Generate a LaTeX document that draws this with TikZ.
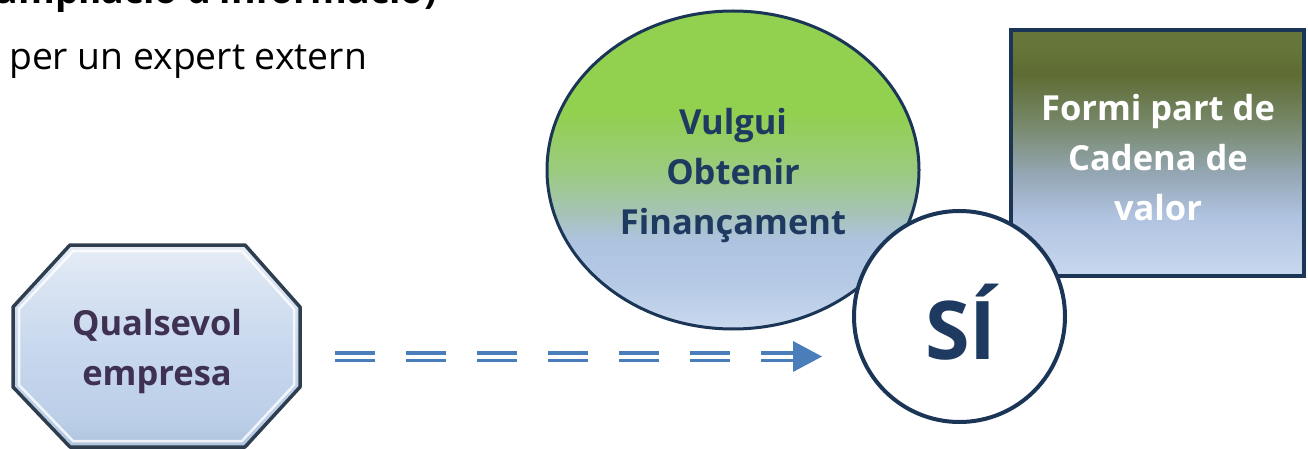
\documentclass[tikz,border=0pt]{standalone}
\usepackage{fontspec}
\setmainfont{Open Sans}
\usetikzlibrary{shapes.geometric,calc}
\definecolor{navy}{HTML}{1B3556}
\definecolor{txtnavy}{HTML}{1F3A60}
\definecolor{purp}{HTML}{3F3151}
\definecolor{arrowblue}{HTML}{4A7EBB}
\definecolor{octline}{HTML}{2F3E4E}
\definecolor{eA}{HTML}{C9D9EE}
\definecolor{eB}{HTML}{B6CAE6}
\definecolor{eC}{HTML}{ADC3DF}
\definecolor{eD}{HTML}{A6C3B8}
\definecolor{eE}{HTML}{9BCB7E}
\definecolor{eF}{HTML}{92D050}
\definecolor{rA}{HTML}{C8D8EE}
\definecolor{rB}{HTML}{B0C3E0}
\definecolor{rC}{HTML}{97A9B9}
\definecolor{rD}{HTML}{7A8B70}
\definecolor{rE}{HTML}{5E6C33}
\definecolor{rF}{HTML}{66763A}
\definecolor{oA}{HTML}{AFC4DE}
\definecolor{oB}{HTML}{BCCFE8}
\definecolor{oC}{HTML}{C8D8EE}
\definecolor{oD}{HTML}{DCE6F3}
\definecolor{oE}{HTML}{E6EDF6}
\pgfdeclareverticalshading{ellshade}{100bp}{color(0bp)=(eA); color(25bp)=(eA); color(32bp)=(eB); color(39bp)=(eC); color(43bp)=(eD); color(50bp)=(eE); color(59bp)=(eF); color(75bp)=(eF); color(100bp)=(eF)}
\pgfdeclareverticalshading{rectshade}{100bp}{color(0bp)=(rA); color(25bp)=(rA); color(37bp)=(rB); color(45bp)=(rC); color(55bp)=(rD); color(66bp)=(rE); color(72bp)=(rF); color(75bp)=(rF); color(100bp)=(rF)}
\pgfdeclareverticalshading{octshade}{100bp}{color(0bp)=(oA); color(25bp)=(oA); color(32bp)=(oB); color(50bp)=(oC); color(68bp)=(oD); color(75bp)=(oE); color(100bp)=(oE)}
\tikzset{
  bigtxt/.style={font=\bfseries\fontsize{34.5}{50}\selectfont, align=center, inner sep=0pt},
  dblline/.style={draw=arrowblue, line width=3.5pt, double=white, double distance=4pt, dash pattern=on 40pt off 31pt},
}
\begin{document}
\begin{tikzpicture}[x=1pt,y=-1pt]
\useasboundingbox (0,0) rectangle (1308,449);
\begin{scope}
\clip (0,0) rectangle (1308,449);
% header texts
\node[anchor=base east, inner sep=0pt, font=\bfseries\fontsize{37.5}{44}\selectfont] (hdr) at (437,4) {ampliació d'informació)};
\node[anchor=base west, inner sep=0pt, font=\fontsize{37.3}{44}\selectfont] (sub) at (9,70) {per un expert extern};
% octagon
\shade[shading=octshade] (13,307) -- (70,245) -- (245,245) -- (300,307) -- (300,387) -- (245,447) -- (70,447) -- (13,387) -- cycle;
\draw[white, opacity=0.8, line width=2.5pt, line join=round] (19,309) -- (73,251) -- (242,251) -- (294,309) -- (294,385) -- (242,441) -- (73,441) -- (19,385) -- cycle;
\draw[octline, line width=3.5pt, line join=round] (13,307) -- (70,245) -- (245,245) -- (300,307) -- (300,387) -- (245,447) -- (70,447) -- (13,387) -- cycle;
\node[bigtxt, text=purp] (q) at (157,352) {Qualsevol\\empresa};
% ellipse
\node[ellipse, draw=navy, line width=3pt, shade, shading=ellshade, minimum width=372pt, minimum height=318pt, inner sep=0pt] (ob) at (733,170) {};
\node[bigtxt, text=txtnavy] (obt) at (733,176) {Vulgui\\Obtenir\\Finançament};
% rectangle
\node[rectangle, draw=navy, line width=4pt, shade, shading=rectshade, minimum width=293pt, minimum height=246pt, inner sep=0pt] (fp) at (1157.5,153) {};
\node[bigtxt, text=white] (fpt) at (1158,158) {Formi part de\\Cadena de\\valor};
% circle
\node[circle, draw=navy, line width=4pt, fill=white, minimum size=211pt, inner sep=0pt] (si) at (959.5,316.5) {};
\node[inner sep=0pt, font=\bfseries\fontsize{81}{90}\selectfont, text=txtnavy] (sit) at (961,322) {SÍ};
% arrow
\coordinate (astart) at (335,356.5);
\coordinate (aend) at (822,356.5);
\draw[dblline] (astart) -- ($(aend)+(-12,0)$);
\fill[arrowblue] (aend) -- ($(aend)+(-29,-15.5)$) -- ($(aend)+(-29,15.5)$) -- cycle;
\end{scope}
\end{tikzpicture}
\end{document}
